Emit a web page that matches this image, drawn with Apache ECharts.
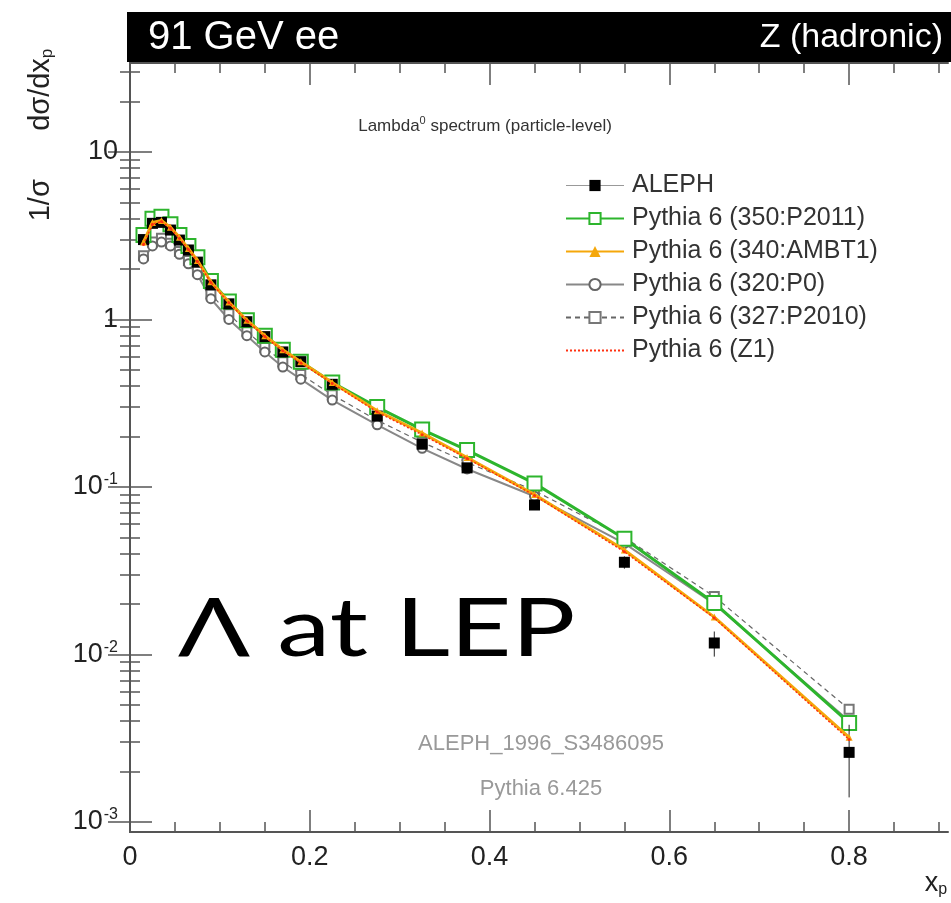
<!DOCTYPE html>
<html><head><meta charset="utf-8">
<script src="https://cdn.jsdelivr.net/npm/echarts@6/dist/echarts.min.js"></script>
<style>html,body{margin:0;padding:0;background:#fff}#c{width:951px;height:903px}</style>
</head><body><div id="c"></div>
<script>
// ---- data ----
const xp      = [0.015,0.025,0.035,0.045,0.055,0.065,0.075,0.09,0.11,0.13,0.15,0.17,0.19,0.225,0.275,0.325,0.375,0.45,0.55,0.65,0.8];
const aleph   = [3.0,3.75,3.8,3.42,2.98,2.6,2.2,1.61,1.24,0.97,0.79,0.64,0.56,0.41,0.265,0.18,0.13,0.078,0.0355,0.0117,0.0026];
const alephErr= [0.1,0.1,0.1,0.09,0.08,0.07,0.06,0.04,0.03,0.025,0.02,0.017,0.015,0.011,0.008,0.006,0.005,0.004,0.003,0.002,0.0012];
const p2011   = [3.2,4.0,4.1,3.7,3.2,2.75,2.35,1.7,1.28,0.99,0.8,0.66,0.56,0.42,0.3,0.22,0.166,0.105,0.049,0.0203,0.0039];
const ambt1   = [2.9,3.8,3.9,3.55,3.1,2.65,2.25,1.68,1.27,0.99,0.8,0.66,0.56,0.42,0.285,0.21,0.15,0.09,0.042,0.0167,0.0032];
const p0      = [2.3,2.75,2.9,2.75,2.45,2.15,1.85,1.33,1.0,0.8,0.64,0.52,0.44,0.33,0.235,0.17,0.128,0.088,0.046,0.02,0.004];
const p2010   = [2.4,2.9,3.05,2.85,2.55,2.25,1.95,1.42,1.08,0.85,0.68,0.56,0.47,0.355,0.25,0.185,0.14,0.095,0.05,0.0222,0.0047];
const z1      = [2.8,3.7,3.85,3.5,3.05,2.62,2.22,1.66,1.26,0.98,0.79,0.65,0.55,0.415,0.28,0.205,0.148,0.089,0.041,0.0165,0.0031];
const names   = ['ALEPH','Pythia 6 (350:P2011)','Pythia 6 (340:AMBT1)','Pythia 6 (320:P0)','Pythia 6 (327:P2010)','Pythia 6 (Z1)'];
const xMajorTicks = [0,0.2,0.4,0.6,0.8];
const xMinorTicks = [0.05,0.1,0.15,0.25,0.3,0.35,0.45,0.5,0.55,0.65,0.7,0.75,0.85,0.9];
const yMajorTicks = [0.001,0.01,0.1,1,10];
const yMinorTicks = [0.002,0.003,0.004,0.005,0.006,0.007,0.008,0.009,
                     0.02,0.03,0.04,0.05,0.06,0.07,0.08,0.09,
                     0.2,0.3,0.4,0.5,0.6,0.7,0.8,0.9,
                     2,3,4,5,6,7,8,9,20,30];

const pair = (ys) => xp.map((x,i)=>[x, ys[i]]);
const FONT = 'Liberation Sans';
const AX = '#555';

function xAx(pos, major){
  return {type:'value', min:0, max:0.91, position:pos,
    axisLine:{show:major, lineStyle:{color:AX,width:2}},
    axisTick:{show:true, inside:true, length: major?22:10, customValues: major?xMajorTicks:xMinorTicks, lineStyle:{color:AX,width:1.5}},
    axisLabel:{show: major && pos==='bottom', customValues:xMajorTicks, fontFamily:FONT, fontSize:27, color:'#222', margin:12,
      formatter:v=>String(+v.toFixed(1))},
    splitLine:{show:false}};
}
function yAx(pos, major){
  return {type:'log', logBase:10, min:0.00087, max:34, position:pos,
    axisLine:{show:major, lineStyle:{color:AX,width:2}},
    axisTick:{show:true, inside:true, length: major?22:10, customValues: major?yMajorTicks:yMinorTicks, lineStyle:{color:AX,width:1.5}},
    axisLabel:{show: major && pos==='left', customValues:yMajorTicks, fontFamily:FONT, fontSize:27, color:'#222', margin:12,
      formatter:v=>{const e=Math.round(Math.log10(v)); if(e===0) return '1'; if(e===1) return '10'; return '10{s|'+e+'}';},
      rich:{s:{fontSize:16, fontFamily:FONT, color:'#222', verticalAlign:'top', padding:[0,0,14,1]}}},
    splitLine:{show:false}};
}

const chart = echarts.init(document.getElementById('c'), null, {renderer:'canvas'});
chart.setOption({
  animation:false,
  grid:{left:130, right:3, top:63, bottom:71},
  xAxis:[xAx('bottom',true), xAx('bottom',false), xAx('top',true), xAx('top',false)],
  yAxis:[yAx('left',true), yAx('left',false), yAx('right',true), yAx('right',false)],
  legend:{left:560, top:168, orient:'vertical', itemWidth:58, itemHeight:14, itemGap:8, selectedMode:false,
    textStyle:{fontFamily:FONT, fontSize:25, color:'#333', padding:[0,0,0,3]},
    data:[
      {name:names[0], lineStyle:{color:'#999', width:1, opacity:1}},
      {name:names[1]},{name:names[2]},{name:names[3]},{name:names[4]},
      {name:names[5], itemStyle:{opacity:0}}
    ]},
  series:[
    {name:names[4], type:'line', data:pair(p2010), symbol:'emptyRect', symbolSize:9, z:3,
      lineStyle:{color:'#666', width:1.2, type:[5,4]}, itemStyle:{color:'#777', borderWidth:1.2}},
    {name:names[3], type:'line', data:pair(p0), symbol:'emptyCircle', symbolSize:9, z:3,
      lineStyle:{color:'#888', width:2}, itemStyle:{color:'#666', borderWidth:1.5}},
    {name:names[1], type:'line', data:pair(p2011), symbol:'emptyRect', symbolSize:14, z:4,
      lineStyle:{color:'#2db52d', width:3}, itemStyle:{color:'#2db52d', borderWidth:1.5}},
    {name:names[0], type:'line', data:pair(aleph), symbol:'rect', symbolSize:11, z:5,
      lineStyle:{opacity:0, width:1}, itemStyle:{color:'#000'}},
    {name:names[2], type:'line', data:pair(ambt1), symbol:'triangle', symbolSize:7, z:6,
      lineStyle:{color:'#f5a70a', width:3}, itemStyle:{color:'#f5a70a'}},
    {name:names[5], type:'line', data:pair(z1), symbol:'circle', symbolSize:3, z:7,
      lineStyle:{color:'#ff3010', width:1.5, type:[2,2]}, itemStyle:{color:'#ff3010'}},
    {name:'errALEPH', type:'custom', z:5, data: xp.map((x,i)=>[x, aleph[i]-alephErr[i], aleph[i]+alephErr[i]]),
      renderItem:(params, api)=>{
        const a = api.coord([api.value(0), api.value(1)]);
        const b = api.coord([api.value(0), api.value(2)]);
        return {type:'line', shape:{x1:a[0],y1:a[1],x2:b[0],y2:b[1]}, style:{stroke:'#222', lineWidth:1}};
      }}
  ],
  graphic:[
    {type:'rect', shape:{x:127, y:12, width:824, height:50}, style:{fill:'#000'}, z:10},
    {type:'text', x:148, y:38, z:11, style:{text:'91 GeV ee', fill:'#fff', font:'40px "Liberation Sans"', textAlign:'left', textVerticalAlign:'middle', align:'left', verticalAlign:'middle'}},
    {type:'text', x:943, y:38, z:11, style:{text:'Z (hadronic)', fill:'#fff', font:'34px "Liberation Sans"', textAlign:'right', textVerticalAlign:'middle', align:'right', verticalAlign:'middle'}},
    {type:'text', x:485, y:126, z:11, style:{text:'Lambda{s|0} spectrum (particle-level)', fill:'#333', font:'17px "Liberation Sans"', textAlign:'center', textVerticalAlign:'middle', align:'center', verticalAlign:'middle',
      rich:{s:{fontSize:11, fontFamily:FONT, fill:'#333', padding:[0,0,10,0]}}}},
    {type:'text', x:41, y:135, rotation:Math.PI/2, z:11, style:{text:'1/σ      dσ/dx{s|p}', fill:'#222', font:'29px "Liberation Sans"', textAlign:'center', textVerticalAlign:'middle', align:'center', verticalAlign:'middle',
      rich:{s:{fontSize:17, fontFamily:FONT, fill:'#222', padding:[12,0,0,0]}}}},
    {type:'text', x:936, y:884, z:11, style:{text:'x{s|p}', fill:'#222', font:'27px "Liberation Sans"', textAlign:'center', textVerticalAlign:'middle', align:'center', verticalAlign:'middle',
      rich:{s:{fontSize:16, fontFamily:FONT, fill:'#222', padding:[12,0,0,0]}}}},
    {type:'text', x:541, y:744, z:11, style:{text:'ALEPH_1996_S3486095', fill:'#999', font:'22px "Liberation Sans"', textAlign:'center', textVerticalAlign:'middle', align:'center', verticalAlign:'middle'}},
    {type:'text', x:541, y:789, z:11, style:{text:'Pythia 6.425', fill:'#999', font:'22px "Liberation Sans"', textAlign:'center', textVerticalAlign:'middle', align:'center', verticalAlign:'middle'}},
    {type:'text', x:178, y:630, scaleX:1.3, z:11, style:{text:'Λ at LEP', fill:'#000', font:'82px Lato', textAlign:'left', textVerticalAlign:'middle', align:'left', verticalAlign:'middle'}}
  ]
});
</script></body></html>
